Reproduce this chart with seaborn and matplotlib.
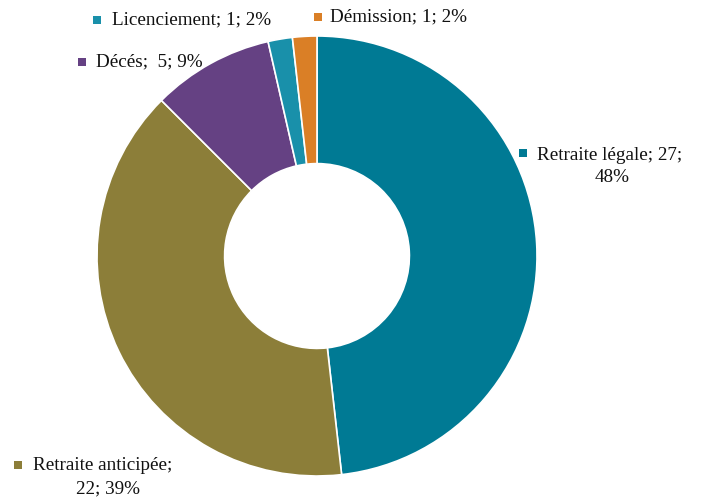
import matplotlib
matplotlib.use("Agg")
import matplotlib.pyplot as plt
import seaborn as sns
from matplotlib.patches import Rectangle

categories = ["Retraite légale", "Retraite anticipée", "Décés", "Licenciement", "Démission"]
counts = [27, 22, 5, 1, 1]
percents = ["48%", "39%", "9%", "2%", "2%"]
colors = ["#007A94", "#8C7E39", "#654183", "#1990AA", "#DA7F26"]

sns.set_theme(style="white")
plt.rcParams['font.family'] = ['Liberation Serif', 'DejaVu Sans']

W, H = 701, 497
fig = plt.figure(figsize=(W / 100, H / 100), dpi=100)
cx, cy, r = 317, 256, 220
ax = fig.add_axes([(cx - r) / W, (H - cy - r) / H, 2 * r / W, 2 * r / H])
ax.pie(counts, colors=colors, startangle=90, counterclock=False,
       wedgeprops=dict(width=0.58, edgecolor="white", linewidth=1.2), radius=1)
ax.set_xlim(-1, 1)
ax.set_ylim(-1, 1)
ax.set_aspect("equal")
ax.axis("off")

fs = 13.8

def label(px, py, lines, color, sq_x, sq_y, cx2=None):
    fig.patches.append(Rectangle(((sq_x - 4) / W, (H - sq_y - 4) / H), 8 / W, 8 / H,
                                 transform=fig.transFigure, facecolor=color, edgecolor="none"))
    fig.text(px / W, (H - py) / H, lines[0], ha="left", va="center", fontsize=fs, color="#111111")
    if len(lines) > 1:
        fig.text(cx2 / W, (H - py - 23) / H, lines[1], ha="center", va="center", fontsize=fs, color="#111111")

label(112, 20, [f"{categories[3]}; {counts[3]}; {percents[3]}"], colors[3], 97, 20)
label(330, 17, [f"{categories[4]}; {counts[4]}; {percents[4]}"], colors[4], 318, 17)
label(96, 62, [f"{categories[2]};  {counts[2]}; {percents[2]}"], colors[2], 82, 62)
label(537, 155, [f"{categories[0]}; {counts[0]};", percents[0]], colors[0], 523, 153, cx2=612)
label(33, 466, [f"{categories[1]};", f"{counts[1]}; {percents[1]}"], colors[1], 18, 465, cx2=108)

fig.savefig("out.png", dpi=100)
